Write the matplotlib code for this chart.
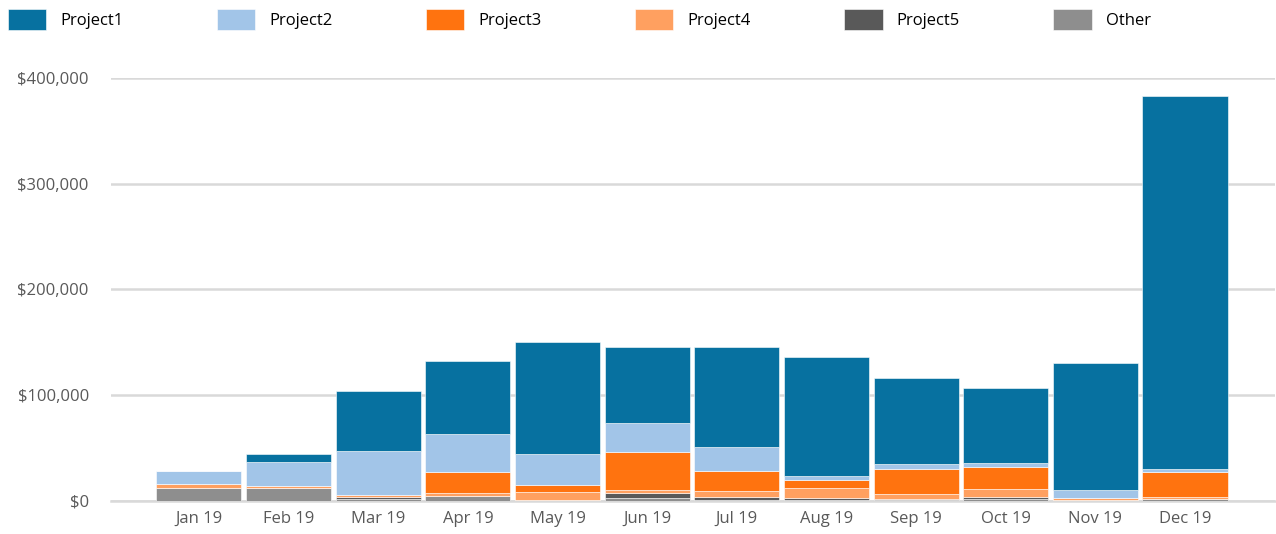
import numpy as np
import matplotlib.pyplot as plt
from matplotlib.ticker import FuncFormatter

months = ['Jan 19', 'Feb 19', 'Mar 19', 'Apr 19', 'May 19', 'Jun 19',
          'Jul 19', 'Aug 19', 'Sep 19', 'Oct 19', 'Nov 19', 'Dec 19']

# stacked from bottom to top: Other, Project5, Project4, Project3, Project2, Project1
other = [12500, 11800, 1700, 4600, 1200, 2500, 600, 1000, 800, 2200, 600, 2200]
project5 = [0, 0, 2300, 0, 0, 4700, 3200, 1500, 800, 1600, 0, 0]
project4 = [3100, 2200, 1200, 3200, 7300, 3200, 6000, 9800, 5300, 7900, 2200, 1900]
project3 = [0, 0, 0, 19900, 7000, 35600, 18900, 7900, 22800, 19900, 0, 23400]
project2 = [12400, 22800, 42400, 35300, 28700, 27500, 21800, 3500, 5000, 3800, 7900, 2200]
project1 = [0, 7600, 56200, 69200, 106000, 72000, 95000, 112300, 81400, 71200, 119600, 353700]

series = [('Project1', project1, '#0771a0'),
          ('Project2', project2, '#a2c5e8'),
          ('Project3', project3, '#ff730f'),
          ('Project4', project4, '#ffa060'),
          ('Project5', project5, '#595959'),
          ('Other', other, '#8e8e8e')]

plt.rcParams['font.family'] = ['Open Sans', 'DejaVu Sans']

fig = plt.figure(figsize=(12.76, 5.34), dpi=100)
ax = fig.add_axes([0.087, 0.062, 0.912, 0.792])

x = np.arange(len(months))
bottom = np.zeros(len(months))
bars = {}
# draw bottom-up
for name, vals, col in series[::-1]:
    vals = np.array(vals, dtype=float)
    bars[name] = ax.bar(x, vals, width=0.95, bottom=bottom, color=col,
                        edgecolor='white', linewidth=0.4, zorder=3)
    bottom += vals

ax.set_xlim(-0.98, 12.0)
ax.set_ylim(0, 400000)
ax.set_yticks([0, 100000, 200000, 300000, 400000])
ax.yaxis.set_major_formatter(FuncFormatter(lambda v, p: '${:,.0f}'.format(v)))
ax.set_xticks(x)
ax.set_xticklabels(months)
ax.grid(axis='y', color='#d9d9d9', linewidth=1.8, zorder=0)
ax.set_axisbelow(True)
for s in ['top', 'right', 'left']:
    ax.spines[s].set_visible(False)
ax.spines['bottom'].set_color('#d9d9d9')
ax.spines['bottom'].set_linewidth(1.8)
ax.tick_params(axis='both', length=0, labelsize=12, labelcolor='#595959')
ax.tick_params(axis='y', pad=16)
ax.tick_params(axis='x', pad=7)

handles = [bars[name][0] for name, _, _ in series]
labels = [name for name, _, _ in series]
fig.legend(handles, labels, loc='upper left', bbox_to_anchor=(-0.001, 1.0),
           ncol=6, frameon=False, fontsize=12, handlelength=2.3,
           handleheight=1.5, handletextpad=0.85, columnspacing=5.6,
           borderaxespad=0.15)

fig.savefig('out.png', dpi=100)
